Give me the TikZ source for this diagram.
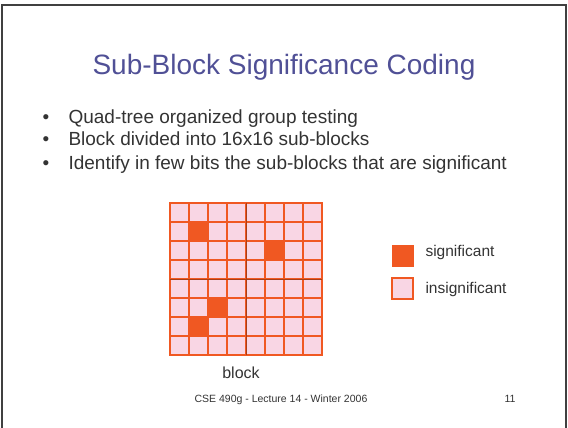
\documentclass[tikz,border=0pt]{standalone}
\usepackage{fontspec}
\setmainfont{Liberation Sans}
\tikzset{>=stealth}
\definecolor{titleblue}{RGB}{80, 80, 150}
\definecolor{textgray}{RGB}{51, 51, 51}
\definecolor{sigorange}{RGB}{240, 88, 34}
\definecolor{insigpink}{RGB}{249, 214, 228}
\definecolor{framegray}{RGB}{64, 64, 64}
\tikzset{
  bullettext/.style={textgray,anchor=base west,font=\fontsize{19}{23}\selectfont},
  bulletdot/.style={textgray,anchor=base,font=\fontsize{19}{23}\selectfont},
  insigcell/.style={fill=insigpink,draw=sigorange,line width=2.2pt},
  sigcell/.style={fill=sigorange,draw=sigorange,line width=2.2pt},
  legendtext/.style={textgray,anchor=base west,font=\fontsize{15.5}{19}\selectfont}
}

\begin{document}
\begin{tikzpicture}[x=1pt,y=-1pt]
\useasboundingbox (0,0) rectangle (568,428);
\draw[framegray,line width=2pt] (2,428) -- (2,5) -- (566,5) -- (566,428);
\node[titleblue,anchor=base,font=\fontsize{28}{34}\selectfont] (title) at (284,75) {Sub-Block Significance Coding};
% bullets
\foreach \txt [count=\i] in {Quad-tree organized group testing,Block divided into 16x16 sub-blocks,Identify in few bits the sub-blocks that are significant}{
  \node[bulletdot] (dot\i) at (46,100+23*\i) {\textbullet};
  \node[bullettext] (item\i) at (65,100+23*\i) {\txt};
}
% block of 8x8 sub-blocks
\foreach \r in {0,...,7}{
  \foreach \c in {0,...,7}{
    \draw[insigcell] (170+19*\c,203+19*\r) rectangle +(19,19);
  }
}
\foreach \c/\r in {1/1,5/2,2/5,1/6}{
  \draw[sigcell] (170+19*\c,203+19*\r) rectangle +(19,19);
}
\draw[sigorange!70!black,line width=0.6pt] (246,203) -- (246,355) (170,279) -- (322,279);
\node[textgray,anchor=base,font=\fontsize{16}{19}\selectfont] (block) at (241,378) {block};
% legend
\draw[fill=sigorange,draw=sigorange,line width=1pt] (392,245) rectangle (413,266);
\node[legendtext] (sig) at (422,256) {significant};
\draw[fill=insigpink,draw=sigorange,line width=1.5pt] (392,278) rectangle (413,299);
\node[legendtext] (insig) at (422,293) {insignificant};
% footer
\node[textgray,anchor=base,font=\fontsize{10.5}{12}\selectfont] (footer) at (281,402) {CSE 490g - Lecture 14 - Winter 2006};
\node[textgray,anchor=base east,font=\fontsize{10.5}{12}\selectfont] (page) at (519,402) {11};
\end{tikzpicture}
\end{document}
